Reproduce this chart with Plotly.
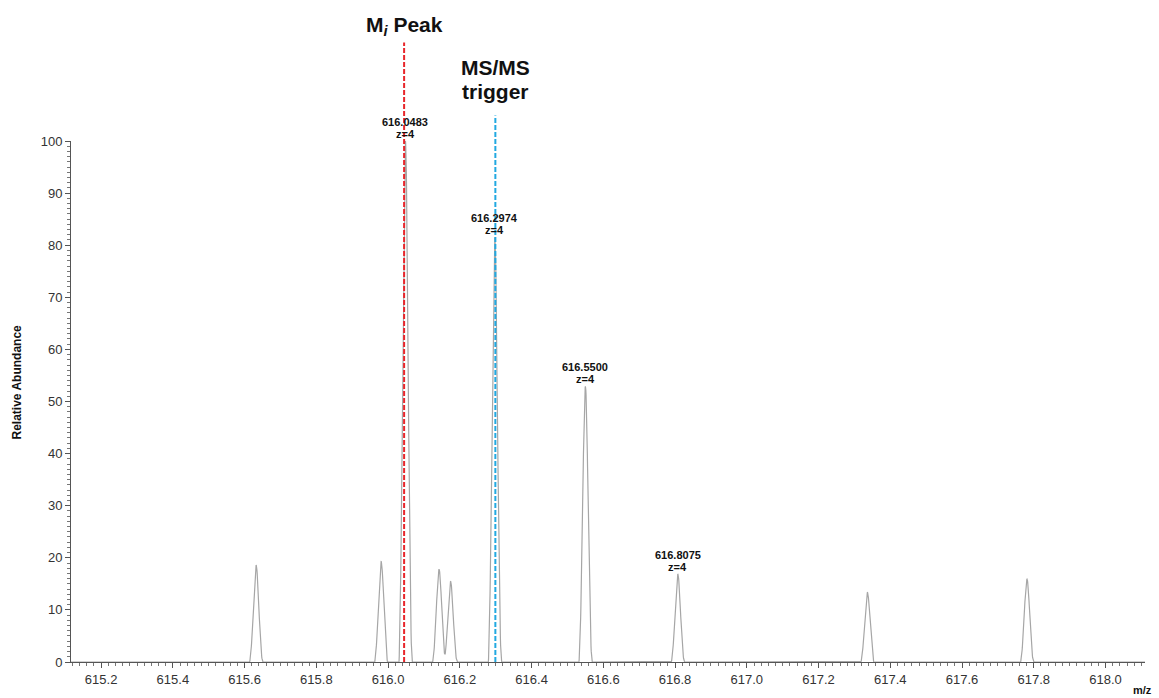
import numpy as np
import plotly.graph_objects as go

# ---- data ----
peak_mz = [615.632, 615.9805, 616.0483, 616.142, 616.174, 616.2974, 616.5500, 616.8075, 617.336, 617.781]
peak_int = [18.6, 19.3, 100.0, 17.8, 15.5, 81.5, 52.9, 16.9, 13.4, 15.9]

label_mz = [616.0483, 616.2974, 616.5500, 616.8075]
label_int = [100.0, 81.5, 52.9, 16.9]
label_text = ["616.0483", "616.2974", "616.5500", "616.8075"]
label_charge = ["z=4", "z=4", "z=4", "z=4"]

mi_peak_mz = 616.0446
trigger_mz = 616.299

x_tickvals = [615.2, 615.4, 615.6, 615.8, 616.0, 616.2, 616.4, 616.6, 616.8, 617.0, 617.2, 617.4, 617.6, 617.8, 618.0]
x_ticktext = ["615.2", "615.4", "615.6", "615.8", "616.0", "616.2", "616.4", "616.6", "616.8", "617.0", "617.2", "617.4", "617.6", "617.8", "618.0"]
y_tickvals = [0, 10, 20, 30, 40, 50, 60, 70, 80, 90, 100]

X_RANGE = [615.116, 618.110]
PEAK_SIGMA = 0.0075   # display width of each centroid's profile
PEAK_FLOOR = 0.06     # profile cut-off fraction (steep peak feet)

# ---- build profile trace from the centroid list ----
grid = np.arange(X_RANGE[0], X_RANGE[1], 0.0006)
grid = np.unique(np.concatenate([grid, np.array(peak_mz)]))
prof = np.zeros_like(grid)
for c, h in zip(peak_mz, peak_int):
    g = (np.exp(-0.5 * ((grid - c) / PEAK_SIGMA) ** 2) - PEAK_FLOOR) / (1 - PEAK_FLOOR)
    prof += h * np.clip(g, 0, None)

FONT = "Liberation Sans, Arial, sans-serif"

fig = go.Figure()
fig.add_trace(go.Scatter(x=grid, y=prof, mode="lines",
                         line=dict(color="#a6a6a6", width=1.2),
                         hoverinfo="skip", showlegend=False))

annotations = []
for mz, h, t, z in zip(label_mz, label_int, label_text, label_charge):
    annotations.append(dict(x=mz, y=h, xref="x", yref="y", text="<b>%s</b>" % z,
                            showarrow=False, yshift=7, xanchor="center", yanchor="middle",
                            font=dict(family=FONT, size=11, color="#111111")))
    annotations.append(dict(x=mz, y=h, xref="x", yref="y", text="<b>%s</b>" % t,
                            showarrow=False, yshift=19, xanchor="center", yanchor="middle",
                            font=dict(family=FONT, size=11, color="#111111")))

annotations.append(dict(x=mi_peak_mz, y=1.221, xref="x", yref="paper",
                        text="<b>M<sub><i>i</i></sub> Peak</b>", showarrow=False,
                        xanchor="center", yanchor="middle",
                        font=dict(family=FONT, size=21, color="#111111")))
annotations.append(dict(x=trigger_mz, y=1.141, xref="x", yref="paper",
                        text="<b>MS/MS</b>", showarrow=False,
                        xanchor="center", yanchor="middle",
                        font=dict(family=FONT, size=21, color="#111111")))
annotations.append(dict(x=trigger_mz, y=1.095, xref="x", yref="paper",
                        text="<b>trigger</b>", showarrow=False,
                        xanchor="center", yanchor="middle",
                        font=dict(family=FONT, size=21, color="#111111")))
annotations.append(dict(x=-0.05, y=0.537, xref="paper", yref="paper",
                        text="<b>Relative Abundance</b>", showarrow=False, textangle=-90,
                        xanchor="center", yanchor="middle",
                        font=dict(family=FONT, size=12, color="#111111")))
annotations.append(dict(x=0.998, y=-0.054, xref="paper", yref="paper",
                        text="<b>m/z</b>", showarrow=False,
                        xanchor="center", yanchor="middle",
                        font=dict(family=FONT, size=11, color="#111111")))

shapes = [
    dict(type="line", xref="x", yref="paper", x0=mi_peak_mz, x1=mi_peak_mz, y0=0, y1=1.189,
         line=dict(color="#e8262b", width=2, dash="5px,2px")),
    dict(type="line", xref="x", yref="paper", x0=trigger_mz, x1=trigger_mz, y0=0, y1=1.049,
         line=dict(color="#22a9e1", width=2, dash="5px,2px")),
]

fig.update_layout(
    width=1159, height=698,
    margin=dict(l=71, r=14, t=141, b=36),
    paper_bgcolor="white", plot_bgcolor="white",
    showlegend=False,
    annotations=annotations, shapes=shapes,
    xaxis=dict(range=X_RANGE, tickvals=x_tickvals, ticktext=x_ticktext,
               ticks="outside", ticklen=5, tickcolor="#555555", tickwidth=1,
               showline=True, linecolor="#555555", linewidth=1,
               showgrid=False, zeroline=False,
               tickfont=dict(family=FONT, size=13, color="#333333"),
               minor=dict(tick0=615.2, dtick=0.02, ticks="outside", ticklen=3,
                          tickcolor="#777777", showgrid=False)),
    yaxis=dict(range=[0, 100], tickvals=y_tickvals,
               ticks="outside", ticklen=5, tickcolor="#555555", tickwidth=1,
               showline=True, linecolor="#555555", linewidth=1,
               showgrid=False, zeroline=False,
               tickfont=dict(family=FONT, size=13, color="#333333"),
               minor=dict(tick0=0, dtick=1, ticks="outside", ticklen=3,
                          tickcolor="#777777", showgrid=False)),
)

fig.write_html("out.html")
